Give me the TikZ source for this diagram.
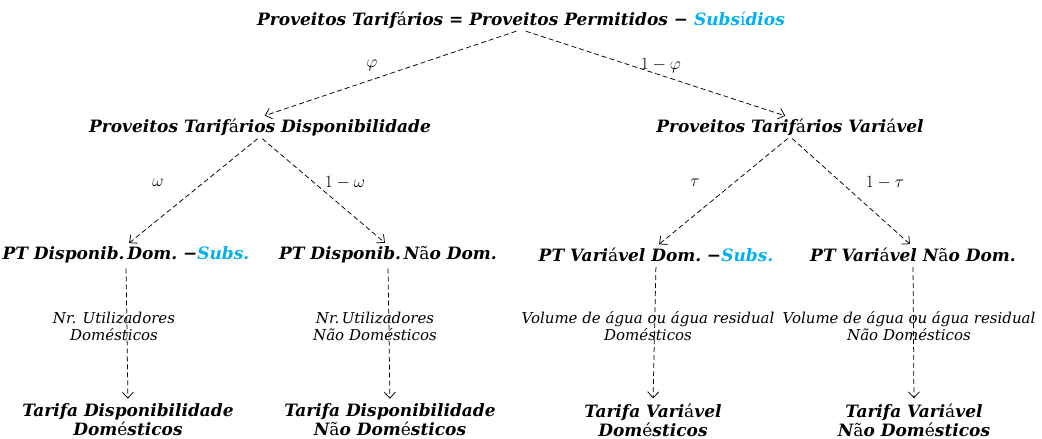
\documentclass[tikz,border=0pt]{standalone}
\usepackage{fontspec}
\setmainfont{DejaVu Serif}
\usetikzlibrary{arrows.meta}
\definecolor{subc}{RGB}{0,176,240}
\newcommand{\upa}[1]{{\upshape\mdseries #1}}
\begin{document}
\begin{tikzpicture}[x=1pt,y=-1pt,
  bi/.style={font=\fontsize{17}{19}\selectfont\bfseries\itshape, inner sep=1pt, align=center},
  it/.style={font=\fontsize{15}{17}\selectfont\itshape, inner sep=0pt, align=center},
  gk/.style={font=\fontsize{16}{18}\selectfont, inner sep=1pt},
  arr/.style={dash pattern=on 5pt off 3pt, line width=0.75pt, -{Straight Barb[length=6pt,width=11pt]}},
  vln/.style={dash pattern=on 5pt off 3pt, line width=0.75pt, -{Straight Barb[length=6pt,width=11pt]}}]
\useasboundingbox (0,0) rectangle (1042,439);
% level 1
\node[bi] (t) at (521,20) {Proveitos Tarif\upa{á}rios = Proveitos Permitidos − \textcolor{subc}{Subs\upa{í}dios}};
% level 2
\node[bi] (d) at (260,127) {Proveitos Tarif\upa{á}rios Disponibilidade};
\node[bi] (v) at (790,127) {Proveitos Tarif\upa{á}rios Vari\upa{á}vel};
% level 3
\node[bi] (pd1) at (126,255) {PT Disponib.\,Dom.\,\,−\textcolor{subc}{Subs.}};
\node[bi] (pd2) at (388,255) {PT Disponib.\,N\upa{ã}o Dom.};
\node[bi] (pv1) at (656,255) {PT Vari\upa{á}vel Dom.\,\,−\textcolor{subc}{Subs.}};
\node[bi] (pv2) at (913,255) {PT Vari\upa{á}vel N\upa{ã}o Dom.};
% level 4
\node[bi] (td1) at (128,420) {Tarifa Disponibilidade\\Dom\upa{é}sticos};
\node[bi] (td2) at (390,420) {Tarifa Disponibilidade\\N\upa{ã}o Dom\upa{é}sticos};
\node[bi] (tv1) at (653,420) {Tarifa Vari\upa{á}vel\\Dom\upa{é}sticos};
\node[bi] (tv2) at (914,420) {Tarifa Vari\upa{á}vel\\N\upa{ã}o Dom\upa{é}sticos};
% driver labels
\node[it] (l1) at (114,326) {Nr. Utilizadores\\Domésticos};
\node[it] (l2) at (375,326) {Nr.\,Utilizadores\\Não Domésticos};
\node[it] (l3) at (648,326) {Volume de água ou água residual\\Domésticos};
\node[it] (l4) at (909,326) {Volume de água ou água residual\\Não Domésticos};
% split labels
\node[gk] (g1) at (372,65) {$\varphi$};
\node[gk] (g2) at (661,66) {$1-\varphi$};
\node[gk] (g3) at (158,183) {$\omega$};
\node[gk] (g4) at (345,183) {$1-\omega$};
\node[gk] (g5) at (695,183) {$\tau$};
\node[gk] (g6) at (885,183) {$1-\tau$};
% connectors
\draw[arr, shorten <=5pt, shorten >=5pt] (t.south) -- (d.north);
\draw[arr, shorten <=5pt, shorten >=5pt] (t.south) -- (v.north);
\draw[arr, shorten <=3pt, shorten >=4pt] (d.south) -- (pd1.north);
\draw[arr, shorten <=3pt, shorten >=4pt] (d.south) -- (pd2.north);
\draw[arr, shorten <=3pt, shorten >=4pt] (v.south) -- (pv1.north);
\draw[arr, shorten <=3pt, shorten >=4pt] (v.south) -- (pv2.north);
\draw[vln, shorten <=4pt, shorten >=4pt] (pd1.south) -- (td1.north);
\draw[vln, shorten <=4pt, shorten >=4pt] (pd2.south) -- (td2.north);
\draw[vln, shorten <=4pt, shorten >=4pt] (pv1.south) -- (tv1.north);
\draw[vln, shorten <=4pt, shorten >=4pt] (pv2.south) -- (tv2.north);
\end{tikzpicture}
\end{document}
